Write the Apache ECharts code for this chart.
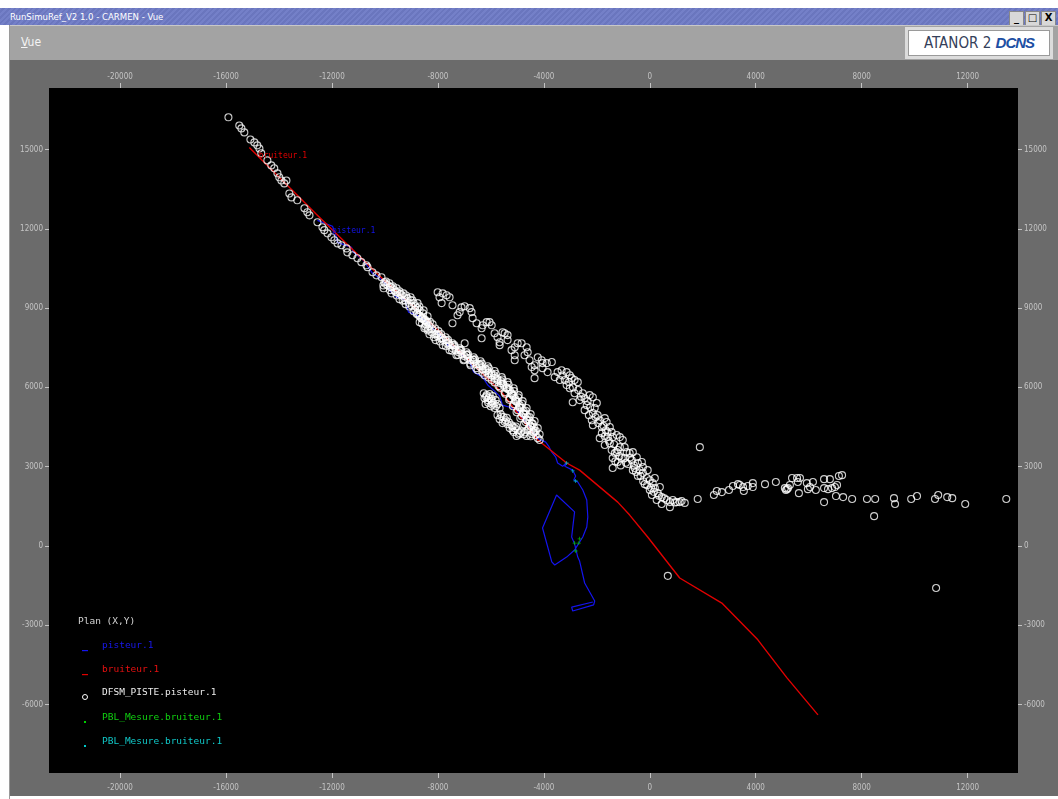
<!DOCTYPE html>
<html>
<head>
<meta charset="utf-8">
<script src="https://cdn.jsdelivr.net/npm/echarts@6/dist/echarts.min.js"></script>
<style>
html,body{margin:0;padding:0;width:1058px;height:799px;overflow:hidden;background:#ffffff;font-family:"DejaVu Sans",sans-serif;}
#titlebar{position:absolute;left:0;top:8px;width:1058px;height:17px;background:repeating-linear-gradient(135deg,#7480c8 0px,#7480c8 2px,#6a76be 2px,#6a76be 4px);color:#fff;font-size:10px;line-height:17px;}
#titlebar .t{position:absolute;left:10px;top:0;font-family:"DejaVu Sans Condensed","DejaVu Sans",sans-serif;font-size:9.5px;}
#titlebar .btns{position:absolute;right:2px;top:1px;height:15px;}
#titlebar .btns span{display:inline-block;width:13px;height:13px;margin-left:1px;background:#d8d8d8;border:1px solid #888;color:#000;font-size:10px;line-height:12px;text-align:center;font-weight:bold;}
#menubar{position:absolute;left:10px;top:25px;width:1048px;height:35px;background:#a3a3a3;border-top:1px solid #c8c8c8;box-sizing:border-box;}
#menubar .vue{position:absolute;left:11px;top:9px;color:#f4f4f4;font-size:12px;font-family:"DejaVu Sans Condensed","DejaVu Sans",sans-serif;}
#menubar .vue u{text-decoration:underline;}
#logo{position:absolute;left:905px;top:27px;width:148px;height:32px;background:#dcdcdc;box-sizing:border-box;padding:3px;}
#logo .in{width:100%;height:100%;background:#ffffff;border:1px solid #9a9a9a;box-sizing:border-box;text-align:center;line-height:24px;font-size:15px;color:#34405a;font-family:"DejaVu Sans Condensed","Liberation Sans",sans-serif;}
#logo .in b{color:#1d4fa3;font-style:italic;font-weight:900;letter-spacing:-1px;font-family:"Liberation Sans",sans-serif;}
#leftedge{position:absolute;left:0;top:25px;width:9px;height:774px;background:#ffffff;border-right:1px solid #9a9a9a;}
#main{position:absolute;left:10px;top:60px;width:1048px;height:736px;background:#6b6b6b;}
#chart{position:absolute;left:0;top:0;width:1058px;height:799px;}
</style>
</head>
<body>
<div id="titlebar"><span class="t">RunSimuRef_V2 1.0 - CARMEN - Vue</span><div class="btns"><span>_</span><span>&#9633;</span><span>X</span></div></div>
<div id="menubar"><span class="vue"><u>V</u>ue</span></div>
<div id="logo"><div class="in">ATANOR 2 <b>DCNS</b></div></div>
<div id="leftedge"></div>
<div id="main"></div>
<div id="chart"></div>
<script>
// ---- axis ticks ----
const xTicks = [-20000,-16000,-12000,-8000,-4000,0,4000,8000,12000];
const yTicks = [-6000,-3000,0,3000,6000,9000,12000,15000];
const xRange = [-22685, 13903];
const yRange = [-8589, 17329];

// ---- bruiteur.1 (red track) ----
const bruiteur = [[-15120,15080],[-12590,12550],[-10020,10050],[-8690,8850],[-5560,5780],[-4230,4010],[-3140,3140],[-2650,2870],[-1210,1660],[-760,1170],[-80,340],[1130,-1210],[2720,-2160],[4080,-3550],[5180,-4990],[6350,-6390]];

// ---- pisteur.1 (blue track) ----
const pisteur = [[-12550,12320],[-11980,12100],[-11870,11830],[-11790,11490],[-11260,11300],[-11190,11110],[-10850,10850],[-10470,10320],[-10090,10060],[-9830,9680],[-9560,9410],[-9260,9340],[-9110,8850],[-8880,8770],[-8660,8660],[-8390,8430],[-7940,7980],[-7640,7600],[-7300,7520],[-7140,7300],[-6800,6960],[-6650,6580],[-6310,6390],[-6120,6090],[-5860,5860],[-5670,5670],[-5560,5330],[-5290,5250],[-4990,5100],[-4800,4840],[-4610,4570],[-4420,4310],[-4230,4080],[-3930,3930],[-3820,3780],[-3700,3550],[-3550,3360],[-3480,3140],[-3290,3020],[-3140,3140],[-3210,3020],[-2910,2870],[-2800,2650],[-2870,2500],[-2720,2420],[-2530,2120],[-2380,1740],[-2340,1100],[-2380,720],[-2530,340],[-2720,40],[-2840,-150],[-3140,-420],[-3590,-720],[-3700,-600],[-4050,680],[-3520,1930],[-2840,1290],[-2950,340],[-2840,80],[-2720,-420],[-2650,-570],[-2460,-1400],[-2080,-2080],[-2120,-2230],[-2910,-2460],[-2950,-2310],[-2150,-2120]];

// ---- DFSM_PISTE.pisteur.1 (white circles) ----
const dfsmUpper = [[-15910,16220],[-15500,15910],[-15420,15800],[-15310,15650],[-15080,15380],[-14930,15270],[-14820,15160],[-14740,15040],[-14670,14860],[-14440,14590],[-14290,14400],[-14180,14290],[-14060,14100],[-13990,13950],[-13910,13830],[-13720,13830],[-13800,13720],[-13610,13340],[-13530,13190],[-13310,13080],[-13040,12780],[-12930,12630],[-12850,12510],[-12550,12250],[-12360,12060],[-12290,11950],[-12170,11830],[-12020,11680],[-11910,11570],[-11790,11450],[-11640,11380],[-11450,11260],[-11420,11110],[-11230,11000],[-11040,10890],[-10890,10740],[-10700,10620],[-10660,10550],[-10470,10360],[-10320,10240],[-10130,10170]];
const dfsmBandMid = [[-10020,9980],[-9900,9870],[-9750,9790],[-9640,9680],[-9530,9600],[-9370,9490],[-9260,9410],[-9150,9370],[-9030,9300],[-8920,9190],[-8850,9070],[-8770,9000],[-8690,8920],[-8730,8730],[-8620,8620],[-8510,8540],[-8390,8470],[-8320,8320],[-8390,8160],[-8240,8090],[-8130,8010],[-8010,7940],[-7900,7860],[-7790,7790],[-7670,7670],[-7560,7600],[-7450,7480],[-7330,7410],[-7220,7330],[-7110,7260],[-6990,7180],[-6880,7110],[-6770,7030],[-6650,6960],[-6540,6880],[-6430,6800],[-6310,6690],[-6200,6620],[-6090,6540],[-5970,6460],[-5860,6350],[-5750,6280],[-5630,6160],[-5520,6090],[-5410,5970],[-5290,5900],[-5220,5780],[-5140,5670],[-5070,5560],[-4990,5440],[-4910,5330],[-4840,5220],[-4760,5100],[-4690,4990],[-4610,4880],[-4540,4760],[-4460,4650],[-4380,4500],[-4350,4350],[-4310,4200],[-4230,4080],[-4160,4010]];
const dfsmBandUpper = [[-9830,9940],[-9560,9750],[-9300,9560],[-9030,9410],[-8770,9190],[-8540,8920],[-8390,8690],[-8200,8390],[-7980,8130],[-7710,7900],[-7450,7670],[-7180,7480],[-6920,7330],[-6650,7140],[-6390,6990],[-6120,6800],[-5860,6620],[-5590,6390],[-5370,6200],[-5140,5970],[-4950,5710],[-4800,5480],[-4650,5220],[-4500,4990],[-4350,4730],[-4230,4460],[-4160,4230]];
const dfsmBandLower = [[-10050,9750],[-9750,9560],[-9450,9340],[-9220,9150],[-8920,8880],[-8690,8470],[-8510,8240],[-8320,8010],[-8090,7790],[-7820,7600],[-7560,7410],[-7300,7220],[-7030,7030],[-6770,6840],[-6500,6650],[-6240,6460],[-5970,6280],[-5710,6050],[-5480,5820],[-5290,5590],[-5140,5370],[-4990,5140],[-4840,4910],[-4690,4690],[-4570,4460],[-4460,4230]];
const dfsmBandFillA = [[-9960,10010],[-9700,9830],[-9450,9640],[-9200,9480],[-8960,9300],[-8700,9060],[-8560,8800],[-8480,8560],[-8300,8480],[-8100,8230],[-7880,8020],[-7620,7800],[-7380,7600],[-7120,7420],[-6860,7250],[-6600,7060],[-6340,6900],[-6080,6720],[-5820,6520],[-5560,6300],[-5330,6100],[-5120,5860],[-4960,5620],[-4820,5380],[-4680,5120],[-4540,4880],[-4420,4620],[-4300,4360]];
const dfsmBandFillB = [[-10060,9860],[-9810,9680],[-9560,9480],[-9330,9280],[-9080,9060],[-8800,8780],[-8600,8600],[-8450,8380],[-8220,8200],[-7960,7990],[-7700,7780],[-7440,7600],[-7180,7420],[-6920,7240],[-6660,7040],[-6400,6850],[-6140,6660],[-5880,6460],[-5620,6240],[-5400,6000],[-5220,5760],[-5080,5500],[-4930,5260],[-4780,5020],[-4650,4780],[-4520,4560],[-4400,4320]];
const dfsmBandFillD = [[-8050,8020],[-7830,7870],[-7600,7700],[-7370,7540],[-7140,7380],[-6900,7220],[-6670,7050],[-6440,6880],[-6210,6710],[-5980,6530],[-5760,6330],[-5540,6140],[-5340,5920],[-5180,5700],[-5040,5470],[-4900,5230],[-4770,5000],[-4640,4760],[-4500,4520],[-4380,4290]];
const dfsmBandFillE = [[-8150,7900],[-7930,7740],[-7700,7560],[-7470,7390],[-7240,7230],[-7010,7060],[-6780,6900],[-6550,6730],[-6320,6560],[-6090,6380],[-5860,6190],[-5650,5990],[-5460,5760],[-5310,5530],[-5170,5290],[-5030,5060],[-4890,4830],[-4750,4600],[-4620,4380],[-4500,4150]];
const dfsmBandFillTop = [[-9980,9920],[-9800,9800],[-9600,9620],[-9420,9540],[-9260,9300],[-9100,9200],[-8990,9090],[-8860,8950],[-8780,8810],[-8680,8690],[-8560,8630],[-8450,8500],[-8600,8420],[-8480,8300],[-8360,8200]];
const dfsmLobes = [[-6270,5780],[-6160,5710],[-6050,5750],[-5930,5670],[-6240,5590],[-6120,5520],[-5970,5480],[-5820,5520],[-5750,5370],[-6010,5290],[-5860,5220],[-5670,5220],[-6200,5370],[-5750,4950],[-5630,4990],[-5520,4880],[-5670,4800],[-5440,4760],[-5560,4650],[-5370,4610],[-5220,4570],[-5290,4460],[-5100,4460],[-4990,4380],[-5140,4310],[-4910,4270],[-4760,4230],[-4650,4160],[-5030,4160],[-6180,5650],[-6080,5600],[-5990,5580],[-5900,5400],[-6100,5420],[-5800,5300],[-5950,5350],[-5600,4900],[-5480,4700],[-5400,4850],[-5320,4680],[-5180,4520],[-5050,4520],[-5180,4380],[-4850,4330],[-4950,4220],[-4720,4300]];
const dfsmSecond = [[-8010,9600],[-7820,9560],[-7670,9490],[-7560,9410],[-7940,9410],[-7860,9190],[-7450,9110],[-7110,9030],[-6990,9070],[-6800,9000],[-7180,8850],[-7260,8730],[-6730,8850],[-6690,8620],[-6540,8430],[-7450,8430],[-6350,8240],[-6310,8350],[-6160,8470],[-6050,8470],[-5970,8350],[-6350,7860],[-5860,8050],[-5750,7900],[-5670,7710],[-5670,7600],[-5560,8090],[-5480,8050],[-5370,7980],[-5370,7790],[-6990,7670],[-5220,7410],[-5100,7520],[-4990,7670],[-4840,7670],[-4650,7520],[-4610,7330],[-5100,7220],[-5100,7030],[-4540,7030],[-4350,6840],[-4460,6770],[-4350,6650],[-4350,6350],[-4230,7140],[-4080,7030],[-4050,6920],[-3890,6920],[-3700,6960],[-4050,6730],[-3590,6390],[-3480,6580],[-3330,6650],[-3140,6580],[-3020,6460],[-2950,6350],[-3210,6280],[-3140,6090],[-2840,6280],[-2720,6200],[-2840,5780],[-2910,5440],[-2530,5780],[-2460,5590],[-2380,5330],[-2270,5710],[-2150,5630],[-2000,5410],[-2080,5220],[-2150,5030],[-2190,4760],[-2150,4570],[-1890,4760],[-1700,4840],[-1630,4690],[-1510,4500],[-1440,4310],[-1810,4500],[-1810,4270],[-1890,4080],[-1510,3890],[-1400,4120],[-1250,4200],[-1130,4120],[-1020,4010],[-950,3740],[-1130,3740],[-1210,3630],[-1320,3520],[-1400,3330],[-1400,2950],[-1210,3180],[-1060,3330],[-870,3550],[-760,3520],[-640,3550],[-490,3360],[-450,3140],[-300,3180],[-260,2990],[-380,2870],[-570,2950],[-260,2760],[-110,2570],[0,2490],[110,2380],[190,2190],[300,2000],[450,1850],[640,1740],[760,1660],[870,1740],[1020,1660],[1130,1660],[1320,1630],[760,1470],[-1970,4950],[-1660,4380],[-1590,4120],[-1700,3820],[-1440,3630],[-950,3330],[-830,3100],[-680,3250],[-640,2870],[-450,2650],[-190,2340],[0,2120],[80,1930],[260,1740],[450,1590],[-80,2870],[190,2570],[380,2230],[-2460,5140],[-2650,5520],[-3020,5970],[-3400,6280],[-3860,6580],[-4730,7220]];
const dfsmSecondFill = [[-3300,6450],[-3050,6200],[-2900,6000],[-2700,5900],[-2600,5650],[-2350,5480],[-2250,5250],[-2300,4950],[-2050,4880],[-1950,4650],[-1750,4550],[-1600,4300],[-1700,4150],[-1550,3980],[-1350,3850],[-1250,3550],[-1150,3400],[-1300,3200],[-1100,3050],[-900,3150],[-750,3350],[-600,3050],[-520,2800],[-350,2650],[-250,2450],[-100,2300],[50,2200],[150,2050],[350,1900],[550,1800],[950,1650],[1200,1700]];
const dfsmTail = [[1890,3740],[680,-1130],[1810,1780],[2420,1930],[2530,2080],[2720,2040],[2990,2120],[3140,2270],[3330,2340],[3400,2310],[3520,2230],[3550,2080],[3700,2270],[3890,2380],[3890,2230],[4350,2340],[4760,2420],[5100,2190],[5180,2150],[5220,2190],[5290,2310],[5140,2120],[5370,2570],[5560,2570],[5670,2570],[5630,2000],[5590,2420],[5930,2380],[5970,2150],[6050,2230],[6160,2420],[6270,2120],[6580,2530],[6800,2530],[6580,2190],[6730,2150],[6880,2190],[6990,2230],[7070,2310],[7140,2650],[7260,2680],[7030,1890],[7300,1850],[7640,1780],[6580,1660],[8200,1780],[8510,1780],[8470,1130],[9220,1810],[9260,1590],[9870,1780],[10090,1890],[10770,1780],[10890,1930],[11230,1850],[11420,1810],[11910,1590],[13460,1780],[10810,-1590]];

// ---- PBL_Mesure.bruiteur.1 ----
const pblGreen = [[-2650,270],[-2680,110],[-2840,110],[-2800,-190]];
const pblCyan = [[-3140,3140],[-2910,2840],[-2800,2460]];

const dfsm = [].concat(dfsmUpper, dfsmBandMid, dfsmBandUpper, dfsmBandLower, dfsmBandFillA, dfsmBandFillB, dfsmBandFillD, dfsmBandFillE, dfsmBandFillTop, dfsmLobes, dfsmSecond, dfsmSecondFill, dfsmTail);

const labelColor = '#c4c4c4';
const axisFont = '"DejaVu Sans Condensed","DejaVu Sans",sans-serif';
const monoFont = '"DejaVu Sans Mono","Liberation Mono",monospace';

function xAxisDef(pos){
  return {type:'value', position:pos, min:xRange[0], max:xRange[1],
    axisLine:{show:false, onZero:false}, splitLine:{show:false},
    axisTick:{show:true, customValues:xTicks, length:5, lineStyle:{color:labelColor,width:1}},
    axisLabel:{show:true, customValues:xTicks, color:labelColor, fontSize:8, fontFamily:axisFont, margin:pos==='top'?7:11, formatter:v=>String(v)}};
}
function yAxisDef(pos){
  return {type:'value', position:pos, min:yRange[0], max:yRange[1],
    axisLine:{show:false, onZero:false}, splitLine:{show:false},
    axisTick:{show:true, customValues:yTicks, length:4, lineStyle:{color:labelColor,width:1}},
    axisLabel:{show:true, customValues:yTicks, color:labelColor, fontSize:8, fontFamily:axisFont, margin:6, formatter:v=>String(v)}};
}

const chart = echarts.init(document.getElementById('chart'), null, {renderer:'canvas'});
const plusPath = 'path://M2,0L3,0L3,2L5,2L5,3L3,3L3,5L2,5L2,3L0,3L0,2L2,2Z';
const legendX = 102;
const option = {
  backgroundColor:'transparent',
  animation:false,
  grid:{left:49, top:88, width:969, height:685, show:true, backgroundColor:'#000000', borderWidth:0, containLabel:false},
  xAxis:[xAxisDef('bottom'), xAxisDef('top')],
  yAxis:[yAxisDef('left'), yAxisDef('right')],
  series:[
    {name:'pisteur.1', type:'line', data:pisteur, showSymbol:false, symbol:'none', lineStyle:{color:'#1414ee', width:1.2}, z:2,
     markPoint:{symbol:'rect', symbolSize:1, itemStyle:{color:'rgba(0,0,0,0)'}, silent:true,
       data:[{coord:pisteur[0], label:{show:true, formatter:'pisteur.1', position:[15,7], color:'#1414ee', fontSize:8, fontFamily:monoFont}}]}},
    {name:'bruiteur.1', type:'line', data:bruiteur, showSymbol:false, symbol:'none', lineStyle:{color:'#e00000', width:1.4}, z:2,
     markPoint:{symbol:'rect', symbolSize:1, itemStyle:{color:'rgba(0,0,0,0)'}, silent:true,
       data:[{coord:bruiteur[0], label:{show:true, formatter:'bruiteur.1', position:[10,5], color:'#e00000', fontSize:8, fontFamily:monoFont}}]}},
    {name:'DFSM_PISTE.pisteur.1', type:'scatter', data:dfsm, symbol:'circle', symbolSize:7,
     itemStyle:{color:'rgba(0,0,0,0)', borderColor:'#ffffff', borderWidth:1.1}, z:3},
    {name:'PBL_Mesure.bruiteur.1', type:'scatter', data:pblGreen, symbol:plusPath, symbolSize:4, itemStyle:{color:'#00d000'}, z:4},
    {name:'PBL_Mesure.bruiteur.1 ', type:'scatter', data:pblCyan, symbol:plusPath, symbolSize:4, itemStyle:{color:'#00d0d0'}, z:4}
  ],
  graphic:[
    {type:'text', left:78, top:617, style:{text:'Plan (X,Y)', fill:'#d4d4d4', font:'9.5px '+monoFont}},
    {type:'rect', shape:{x:82, y:650, width:6, height:1.2}, style:{fill:'#1414ee'}},
    {type:'text', left:legendX, top:641, style:{text:'pisteur.1', fill:'#1818f0', font:'9.5px '+monoFont}},
    {type:'rect', shape:{x:82, y:674, width:6, height:1.2}, style:{fill:'#e00000'}},
    {type:'text', left:legendX, top:665, style:{text:'bruiteur.1', fill:'#e81010', font:'9.5px '+monoFont}},
    {type:'circle', shape:{cx:85, cy:697, r:2.5}, style:{fill:'rgba(0,0,0,0)', stroke:'#ffffff', lineWidth:1}},
    {type:'text', left:legendX, top:688, style:{text:'DFSM_PISTE.pisteur.1', fill:'#ececec', font:'9.5px '+monoFont}},
    {type:'rect', shape:{x:84, y:721, width:2, height:2}, style:{fill:'#00d000'}},
    {type:'text', left:legendX, top:713, style:{text:'PBL_Mesure.bruiteur.1', fill:'#10d010', font:'9.5px '+monoFont}},
    {type:'rect', shape:{x:84, y:745, width:2, height:2}, style:{fill:'#00c8c8'}},
    {type:'text', left:legendX, top:737, style:{text:'PBL_Mesure.bruiteur.1', fill:'#10c8c8', font:'9.5px '+monoFont}}
  ]
};
chart.setOption(option);
</script>
</body>
</html>
